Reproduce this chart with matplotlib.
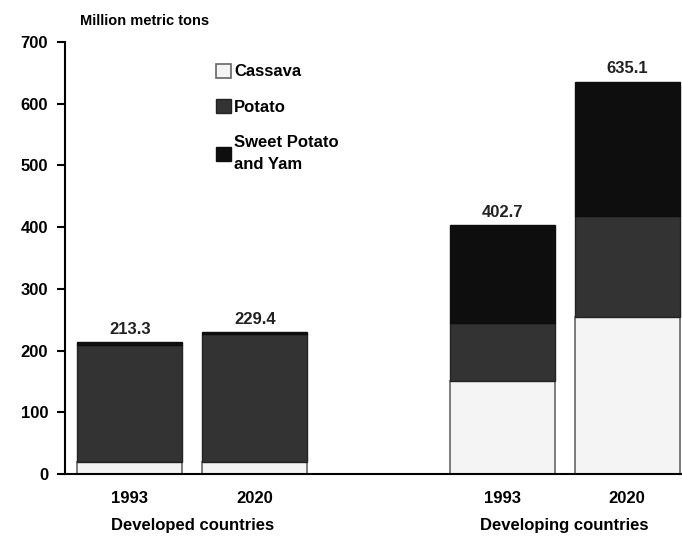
import matplotlib.pyplot as plt
import numpy as np

plt.rcParams['font.family'] = ['Liberation Sans', 'DejaVu Sans']

# Data (million metric tons)
years = ['1993', '2020', '1993', '2020']
groups = ['Developed countries', 'Developing countries']
cassava = np.array([19, 19, 150, 254])
potato = np.array([190.5, 208, 95, 164])
sweet_potato_yam = np.array([3.8, 2.4, 157.7, 217.1])
totals = ['213.3', '229.4', '402.7', '635.1']

x = np.array([0, 1, 2.98, 3.98])
w = 0.84

fig = plt.figure(figsize=(6.82, 5.43), dpi=100)
ax = fig.add_axes([0.095, 0.127, 0.905, 0.796])

b1 = ax.bar(x, cassava, w, color='#f4f4f4', edgecolor='#666666', linewidth=1.2, label='Cassava')
b2 = ax.bar(x, potato, w, bottom=cassava, color='#333333', edgecolor='#222222',
            linewidth=1.0, label='Potato')
b3 = ax.bar(x, sweet_potato_yam, w, bottom=cassava + potato, color='#0e0e0e',
            edgecolor='#0e0e0e', linewidth=1.0, label='Sweet Potato\nand Yam')

top = cassava + potato + sweet_potato_yam
for xi, t, lab in zip(x, top, totals):
    ax.text(xi, t + 9, lab, ha='center', va='bottom', fontsize=12, fontweight='bold', color='#222222')

ax.set_xlim(-0.52, 4.42)
ax.set_ylim(0, 700)
ax.set_yticks(np.arange(0, 701, 100))
ax.tick_params(axis='y', length=6, width=1.5, labelsize=12, pad=6)
for lbl in ax.get_yticklabels():
    lbl.set_fontweight('bold')
ax.set_xticks(x)
ax.set_xticklabels(years, fontsize=12, fontweight='bold')
ax.tick_params(axis='x', length=0, pad=12)

for s in ['top', 'right']:
    ax.spines[s].set_visible(False)
ax.spines['left'].set_linewidth(1.5)
ax.spines['bottom'].set_linewidth(1.5)

ax.text(0.5, -0.102, groups[0], transform=ax.get_xaxis_transform(), ha='center', va='top',
        fontsize=12, fontweight='bold')
ax.text(3.48, -0.102, groups[1], transform=ax.get_xaxis_transform(), ha='center', va='top',
        fontsize=12, fontweight='bold')

fig.text(0.117, 0.962, 'Million metric tons', ha='left', va='center', fontsize=10.5, fontweight='bold')

leg = ax.legend(handles=[b1, b2, b3], loc='upper left', bbox_to_anchor=(0.22, 0.984),
                frameon=False, handlelength=0.9, handleheight=0.9,
                handletextpad=0.2, labelspacing=1.2, prop={'weight': 'bold', 'size': 12})
for t in leg.get_texts():
    t.set_linespacing(1.6)

fig.savefig('out.png', dpi=100)
